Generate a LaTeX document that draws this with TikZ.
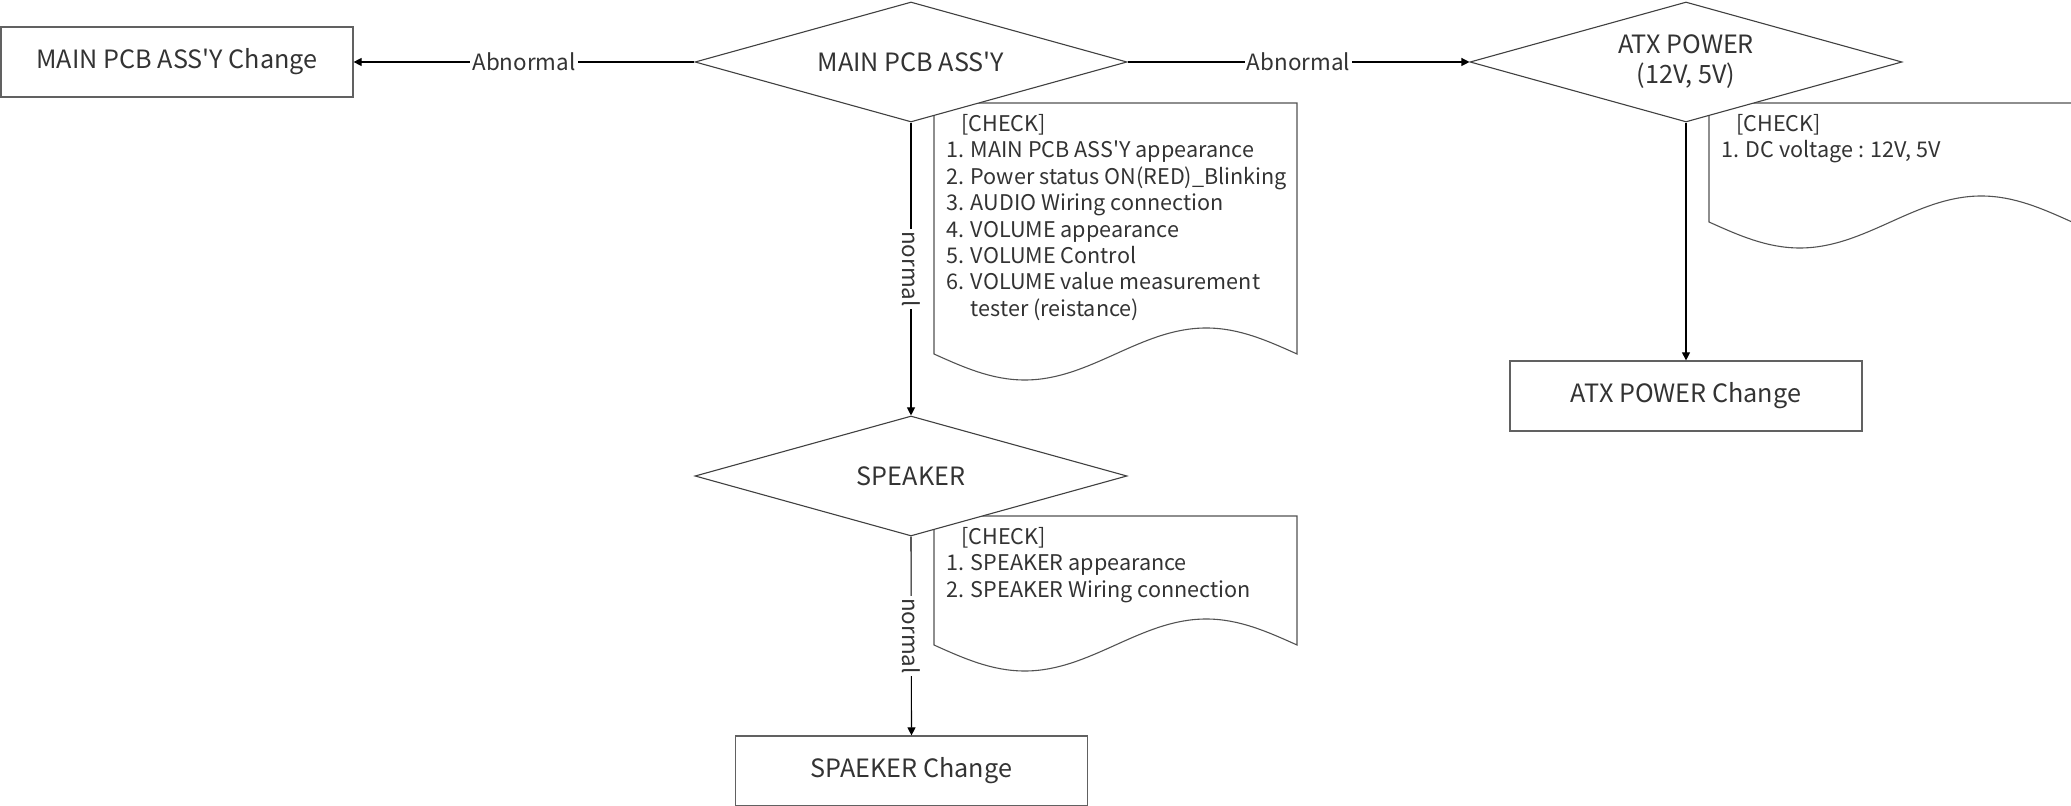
\documentclass[tikz,border=0pt]{standalone}
\usepackage{fontspec}
\setmainfont{Noto Sans CJK KR}[Ligatures=TeXOff]
\usetikzlibrary{shapes.geometric,arrows.meta}
\begin{document}
\begin{tikzpicture}[x=0.5pt,y=-0.5pt,
  shapeline/.style={draw=black!75, line width=0.55pt},
  procbox/.style={draw=black!62, line width=0.6pt, rectangle, minimum width=176pt, minimum height=35pt, inner sep=0pt, font=\fontsize{12.6}{14}\selectfont, text=black!80},
  decision/.style={shapeline, diamond, shape aspect=3.6, fill=white, minimum width=216pt, minimum height=60pt, inner sep=0pt, align=center, font=\fontsize{12.6}{15}\selectfont, text=black!80},
  notebox/.style={draw=black!68, line width=0.55pt},
  notetext/.style={anchor=north west, align=left, inner sep=0pt, font=\fontsize{10.8}{13.2}\selectfont, text=black!80},
  flow/.style={draw=black, line width=0.55pt, -{Triangle[length=4pt,width=4pt]}},
  lbl/.style={fill=white, inner sep=1pt, font=\fontsize{11.2}{12}\selectfont, text=black!80},
]
\clip (0,0) rectangle (2071,806);
% notes
\draw[notebox] (934,103) -- (1297,103) -- (1297,354) sin (1206.25,328) cos (1115.5,354) sin (1024.75,380) cos (934,354) -- cycle;
\draw[notebox] (934,516) -- (1297,516) -- (1297,645) sin (1206.25,619) cos (1115.5,645) sin (1024.75,671) cos (934,645) -- cycle;
\draw[notebox] (1709,103) -- (2072,103) -- (2072,222) sin (1981.25,196) cos (1890.5,222) sin (1799.75,248) cos (1709,222) -- cycle;
\node[notetext] (t1) at (946,114) {\hspace{7.5pt}[CHECK]\\1. MAIN PCB ASS'Y appearance\\2. Power status ON(RED)\_Blinking\\3. AUDIO Wiring connection\\4. VOLUME appearance\\5. VOLUME Control\\6. VOLUME value measurement\\\phantom{6. }tester (reistance)};
\node[notetext] (t2) at (946,527) {\hspace{7.5pt}[CHECK]\\1. SPEAKER appearance\\2. SPEAKER Wiring connection};
\node[notetext] (t3) at (1721,114) {\hspace{7.5pt}[CHECK]\\1. DC voltage : 12V, 5V};
% shapes
\node[decision] (d1) at (911,62) {MAIN PCB ASS'Y};
\node[decision] (d2) at (1686,62) {ATX POWER\\(12V, 5V)};
\node[decision] (d3) at (911,476) {SPEAKER};
\node[procbox] (b1) at (177,62) {MAIN PCB ASS'Y Change};
\node[procbox] (b2) at (911.5,771) {SPAEKER Change};
\node[procbox] (b3) at (1686,396) {ATX POWER Change};
% connectors
\draw[flow] (d1.west) -- node[lbl]{Abnormal} (b1.east);
\draw[flow] (d1.east) -- node[lbl]{Abnormal} (d2.west);
\draw[flow] (d1.south) -- node[lbl,rotate=-90]{normal} (d3.north);
\draw[flow] (d3.south) -- node[lbl,rotate=-90]{normal} (b2.north);
\draw[flow] (d2.south) -- (b3.north);
\end{tikzpicture}
\end{document}
